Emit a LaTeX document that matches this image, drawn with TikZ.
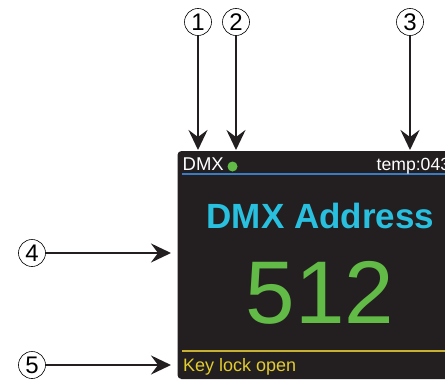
\documentclass[tikz,border=0pt]{standalone}
\usepackage{fontspec}
\setmainfont{Liberation Sans}
\usetikzlibrary{arrows.meta}
\definecolor{scr}{HTML}{231F20}
\definecolor{bl}{HTML}{3A7CC4}
\definecolor{yl}{HTML}{C8B030}
\definecolor{ylt}{HTML}{E2CC2E}
\definecolor{cy}{HTML}{29C0E0}
\definecolor{gr}{HTML}{62BB46}
\definecolor{arr}{HTML}{231F20}
\tikzset{
  num/.style={circle,draw=black,line width=0.6pt,minimum size=27pt,inner sep=0pt,font=\fontsize{24}{24}\selectfont},
  pointer/.style={draw=arr,line width=2.2pt,-{Stealth[length=20pt,width=19pt,inset=7pt]}},
  small/.style={text=white,font=\fontsize{18.5}{19}\selectfont,inner sep=0pt,anchor=base west},
}
\begin{document}
\begin{tikzpicture}[x=1pt,y=1pt]
\useasboundingbox (0,0) rectangle (445,-380);
\clip (0,0) rectangle (445,-380);
% screen
\fill[scr,rounded corners=4pt] (177.5,-151) rectangle (460,-379);
\draw[bl,line width=2pt] (182,-174) -- (450,-174);
\draw[yl,line width=2pt] (182,-351) -- (450,-351);
\node[small] (dmx) at (182.5,-170.5) {DMX};
\fill[gr] (232.5,-166.5) circle (5);
\node[small,font=\fontsize{17.6}{18}\selectfont] (temp) at (376.5,-170.5) {temp:043};
\node[text=cy,font=\fontsize{35}{36}\selectfont\bfseries,inner sep=0pt,anchor=base] (addr) at (320.5,-228) {DMX Address};
\node[text=gr,font=\fontsize{89}{90}\selectfont,inner sep=0pt,anchor=base] (val) at (320,-323) {512};
\node[text=ylt,font=\fontsize{18}{18}\selectfont,inner sep=0pt,anchor=base west] (key) at (183,-371) {Key lock open};
% callouts
\node[num] (c1) at (198,-22) {1};
\node[num] (c2) at (236,-22) {2};
\node[num] (c3) at (410,-22) {3};
\node[num] (c4) at (32,-253) {4};
\node[num] (c5) at (32,-365) {5};
\coordinate (t1) at (198,-150);
\coordinate (t2) at (236,-150);
\coordinate (t3) at (410,-150);
\coordinate (t4) at (171,-253);
\coordinate (t5) at (171,-365);
\draw[pointer] (c1) -- (t1);
\draw[pointer] (c2) -- (t2);
\draw[pointer] (c3) -- (t3);
\draw[pointer] (c4) -- (t4);
\draw[pointer] (c5) -- (t5);
\end{tikzpicture}
\end{document}
